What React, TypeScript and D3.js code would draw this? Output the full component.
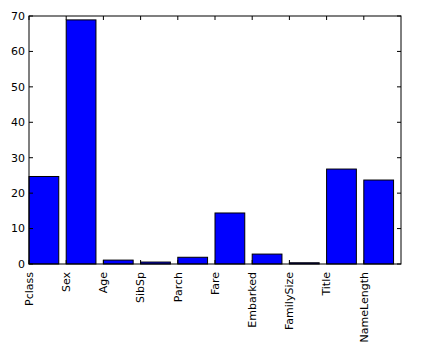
import React, { useEffect, useRef } from "react";
import * as d3 from "d3";

const features = ["Pclass", "Sex", "Age", "SibSp", "Parch", "Fare", "Embarked", "FamilySize", "Title", "NameLength"];
const scores = [24.7, 68.9, 1.1, 0.55, 1.9, 14.4, 2.8, 0.35, 26.8, 23.7];
const yTicks = [0, 10, 20, 30, 40, 50, 60, 70];

const App = () => {
  const ref = useRef<SVGSVGElement>(null);

  useEffect(() => {
    const svg = d3.select(ref.current);
    svg.selectAll("*").remove();
    const margin = { top: 16, right: 44, bottom: 90, left: 29 };
    const width = 445 - margin.left - margin.right;
    const height = 354 - margin.top - margin.bottom;

    const x = d3.scaleLinear().domain([0, features.length]).range([0, width]);
    const y = d3.scaleLinear().domain([0, 70]).range([height, 0]);

    const g = svg.append("g").attr("transform", "translate(" + margin.left + "," + margin.top + ")");

    g.selectAll("rect.bar")
      .data(scores)
      .enter()
      .append("rect")
      .attr("class", "bar")
      .attr("x", (d, i) => x(i))
      .attr("width", x(0.8) - x(0))
      .attr("y", d => y(d))
      .attr("height", d => y(0) - y(d))
      .attr("fill", "#0000ff")
      .attr("stroke", "#000")
      .attr("stroke-width", 1);

    // frame
    g.append("rect")
      .attr("x", 0)
      .attr("y", 0)
      .attr("width", width)
      .attr("height", height)
      .attr("fill", "none")
      .attr("stroke", "#000")
      .attr("stroke-width", 1);

    const tickLen = 4;
    const font = "DejaVu Sans, sans-serif";

    // y ticks, both sides, pointing in
    yTicks.forEach(t => {
      g.append("line").attr("x1", 0).attr("x2", tickLen).attr("y1", y(t)).attr("y2", y(t)).attr("stroke", "#000");
      g.append("line").attr("x1", width).attr("x2", width - tickLen).attr("y1", y(t)).attr("y2", y(t)).attr("stroke", "#000");
      g.append("text")
        .attr("x", -4)
        .attr("y", y(t))
        .attr("dy", "0.35em")
        .attr("text-anchor", "end")
        .attr("font-family", font)
        .attr("font-size", "11px")
        .text(t);
    });

    // x ticks, top and bottom
    features.forEach((f, i) => {
      g.append("line").attr("x1", x(i)).attr("x2", x(i)).attr("y1", height).attr("y2", height - tickLen).attr("stroke", "#000");
      g.append("line").attr("x1", x(i)).attr("x2", x(i)).attr("y1", 0).attr("y2", tickLen).attr("stroke", "#000");
      g.append("text")
        .attr("transform", "translate(" + x(i) + "," + (height + 8) + ") rotate(-90)")
        .attr("dy", "0.35em")
        .attr("text-anchor", "end")
        .attr("font-family", font)
        .attr("font-size", "11px")
        .text(f);
    });
  }, []);

  return (
    <svg
      ref={ref}
      width={445}
      height={354}
      style={{ position: "absolute", left: 0, top: 0, background: "#fff" }}
    />
  );
};

export default App;
